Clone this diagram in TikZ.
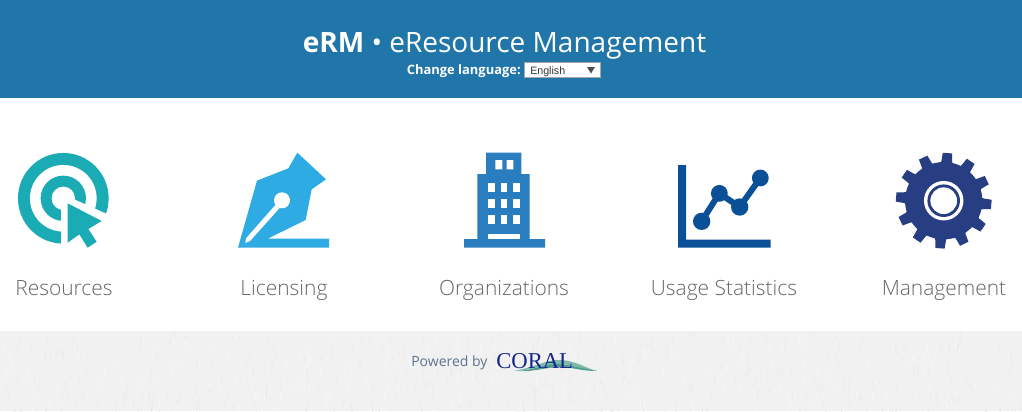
\documentclass[tikz,border=0pt]{standalone}
\usepackage{fontspec}
\setmainfont{Open Sans}
\newfontfamily\lightfont{Open Sans Light}
\newfontfamily\arialfont{Liberation Sans}
\newfontfamily\timesfont{Liberation Serif}
\definecolor{headerblue}{HTML}{2176A9}
\definecolor{teal}{HTML}{1AABB5}
\definecolor{penblue}{HTML}{2FABE3}
\definecolor{buildblue}{HTML}{2A7EBF}
\definecolor{chartblue}{HTML}{0A5096}
\definecolor{gearblue}{HTML}{283E82}
\definecolor{footergrey}{HTML}{F1F1F1}
\definecolor{speckdark}{HTML}{ECECEC}
\definecolor{specklight}{HTML}{F6F6F6}
\definecolor{labelgrey}{HTML}{666666}
\definecolor{coralnavy}{HTML}{14278C}
\definecolor{coralgreen}{HTML}{7DB8A8}
\definecolor{coraldark}{HTML}{4F9A90}
\definecolor{poweredgrey}{HTML}{5F7390}
\tikzset{
  iconlabel/.style={font=\lightfont\fontsize{15.7pt}{18pt}\selectfont, text=labelgrey, inner sep=0pt, anchor=base},
}
\begin{document}
\begin{tikzpicture}[x=0.75pt,y=-0.75pt]
\useasboundingbox (0,0) rectangle (1022,411);
\fill[white] (0,0) rectangle (1022,411);
\fill[headerblue] (0,0) rectangle (1022,98);
\fill[footergrey] (0,331) rectangle (1022,411);
% footer paper texture
\pgfmathsetseed{7}
\begin{scope}
\clip (0,331) rectangle (1022,411);
\foreach \i in {1,...,700} {
  \pgfmathsetmacro{\px}{rnd*1022}
  \pgfmathsetmacro{\py}{331+rnd*80}
  \pgfmathsetmacro{\pa}{70+rnd*40}
  \pgfmathsetmacro{\pl}{3+rnd*9}
  \pgfmathtruncatemacro{\pc}{mod(\i,2)}
  \ifnum\pc=0
    \draw[speckdark,line width=0.7pt] (\px,\py) -- ++(\pa:\pl);
  \else
    \draw[specklight,line width=0.7pt] (\px,\py) -- ++(\pa:\pl);
  \fi
}
\end{scope}
% header
\node[inner sep=0pt,anchor=base,text=white,font=\fontsize{21pt}{24pt}\selectfont] (title) at (504.5,52) {\textbf{eRM} • eResource Management};
\node[inner sep=0pt,anchor=base east,text=white,font=\bfseries\fontsize{9.7pt}{12pt}\selectfont] (lang) at (521,74) {Change language:};
\node[draw=black!35,fill=white,line width=0.75pt,minimum width=57pt,minimum height=11.6pt,inner sep=0pt,anchor=north west] (select) at (524,62) {};
\node[inner sep=0pt,anchor=base west,text=black!80,font=\arialfont\fontsize{8pt}{10pt}\selectfont] (langval) at (530,74) {English};
\fill[black!70] (587,67) -- (595,67) -- (591,73.5) -- cycle;
% resources icon
\fill[teal] (63.3,198.3) circle [radius=34pt];
\fill[white] (63.3,198.3) circle [radius=25pt];
\fill[teal] (63.3,198.3) circle [radius=17pt];
\fill[white] (63.3,198.3) circle [radius=8.75pt];
\begin{scope}[shift={(0,140)},x=0.25pt,y=-0.25pt]
\fill[white] (183,178) -- (205,170) -- (330,226) -- (345,345) -- (183,345) -- cycle;
\fill[teal] (203,190) -- (305,243) -- (265,267) -- (290,305) -- (263,323) -- (238,283) -- (203,308) -- cycle;
\end{scope}
\node[iconlabel] (resources) at (64,295) {Resources};
% pen icon
\begin{scope}[shift={(0,140)},x=0.25pt,y=-0.25pt]
\fill[penblue] (892,38) -- (978,118) -- (935,148) -- (917,240) -- (803,296) -- (987,296) -- (987,323) -- (714,323) -- (771,122) -- (865,85) -- cycle;
\fill[white] (846,181) circle [radius=6pt];
\fill[white] (826,195) -- (738,295) -- (736,309) -- (750,303) -- (838,205) -- cycle;
\end{scope}
\node[iconlabel] (licensing) at (284,295) {Licensing};
% building icon
\begin{scope}[shift={(440,140)},x=0.25pt,y=-0.25pt]
\fill[buildblue] (138,38) -- (244,38) -- (244,102) -- (269,102) -- (269,297) -- (315,297) -- (315,323) -- (72,323) -- (72,297) -- (112,297) -- (112,102) -- (138,102) -- cycle;
\fill[white] (166,60) rectangle (187,88) (200,60) rectangle (220,88);
\foreach \wy in {130,177,224} \foreach \wx/\wz in {144/165,182/202,219/240}
  \fill[white] (\wx,\wy) rectangle (\wz,\wy+27);
\fill[white] (143,281) rectangle (241,296);
\end{scope}
\node[iconlabel] (organizations) at (504,295) {Organizations};
% chart icon
\begin{scope}[shift={(440,140)},x=0.25pt,y=-0.25pt]
\fill[chartblue] (714,75) -- (738,75) -- (738,299) -- (992,299) -- (992,323) -- (714,323) -- cycle;
\draw[chartblue,line width=4.5pt] (785,244) -- (838,160) -- (899,201) -- (961,114);
\fill[chartblue] (785,244) circle [radius=6.5pt] (838,160) circle [radius=6.3pt] (899,201) circle [radius=6.5pt] (961,114) circle [radius=6.3pt];
\end{scope}
\node[iconlabel] (usage) at (724,295) {Usage Statistics};
% gear icon
\begin{scope}[shift={(943.7,200.7)}]
\fill[gearblue] (0,0) circle [radius=29pt];
\foreach \ang in {0,30,...,330}
  \fill[gearblue,rotate=\ang-4.5] (-4pt,-30pt) -- (-3.5pt,-35.8pt) -- (3.5pt,-35.8pt) -- (4pt,-30pt)-- (5pt,-25pt) -- (-5pt,-25pt) -- cycle;
\fill[white] (0,0) circle [radius=14.8pt];
\fill[gearblue] (0,0) circle [radius=12.2pt];
\fill[white] (0,0) circle [radius=10pt];
\end{scope}
\node[iconlabel] (management) at (944,295) {Management};
% footer
\node[inner sep=0pt,anchor=base west,text=poweredgrey,font=\fontsize{10.5pt}{12pt}\selectfont] (powered) at (411,366) {Powered by};
\fill[coralgreen] (513,371) .. controls (533,368) and (545,360) .. (558,360) .. controls (575,360) and (585,368) .. (597,371) .. controls (583,370) and (572,364) .. (560,364) .. controls (545,364) and (530,371) .. (513,371) -- cycle;
\fill[coraldark] (519,371) .. controls (533,370) and (548,363) .. (560,364) .. controls (572,365) and (583,369) .. (597,371) .. controls (580,371) and (572,367) .. (560,367) .. controls (548,367) and (533,372) .. (519,371) -- cycle;
\node[inner sep=0pt,anchor=base west,text=coralnavy,font=\timesfont\fontsize{17pt}{18pt}\selectfont] (coral) at (496,368) {CORAL};
\end{tikzpicture}
\end{document}
